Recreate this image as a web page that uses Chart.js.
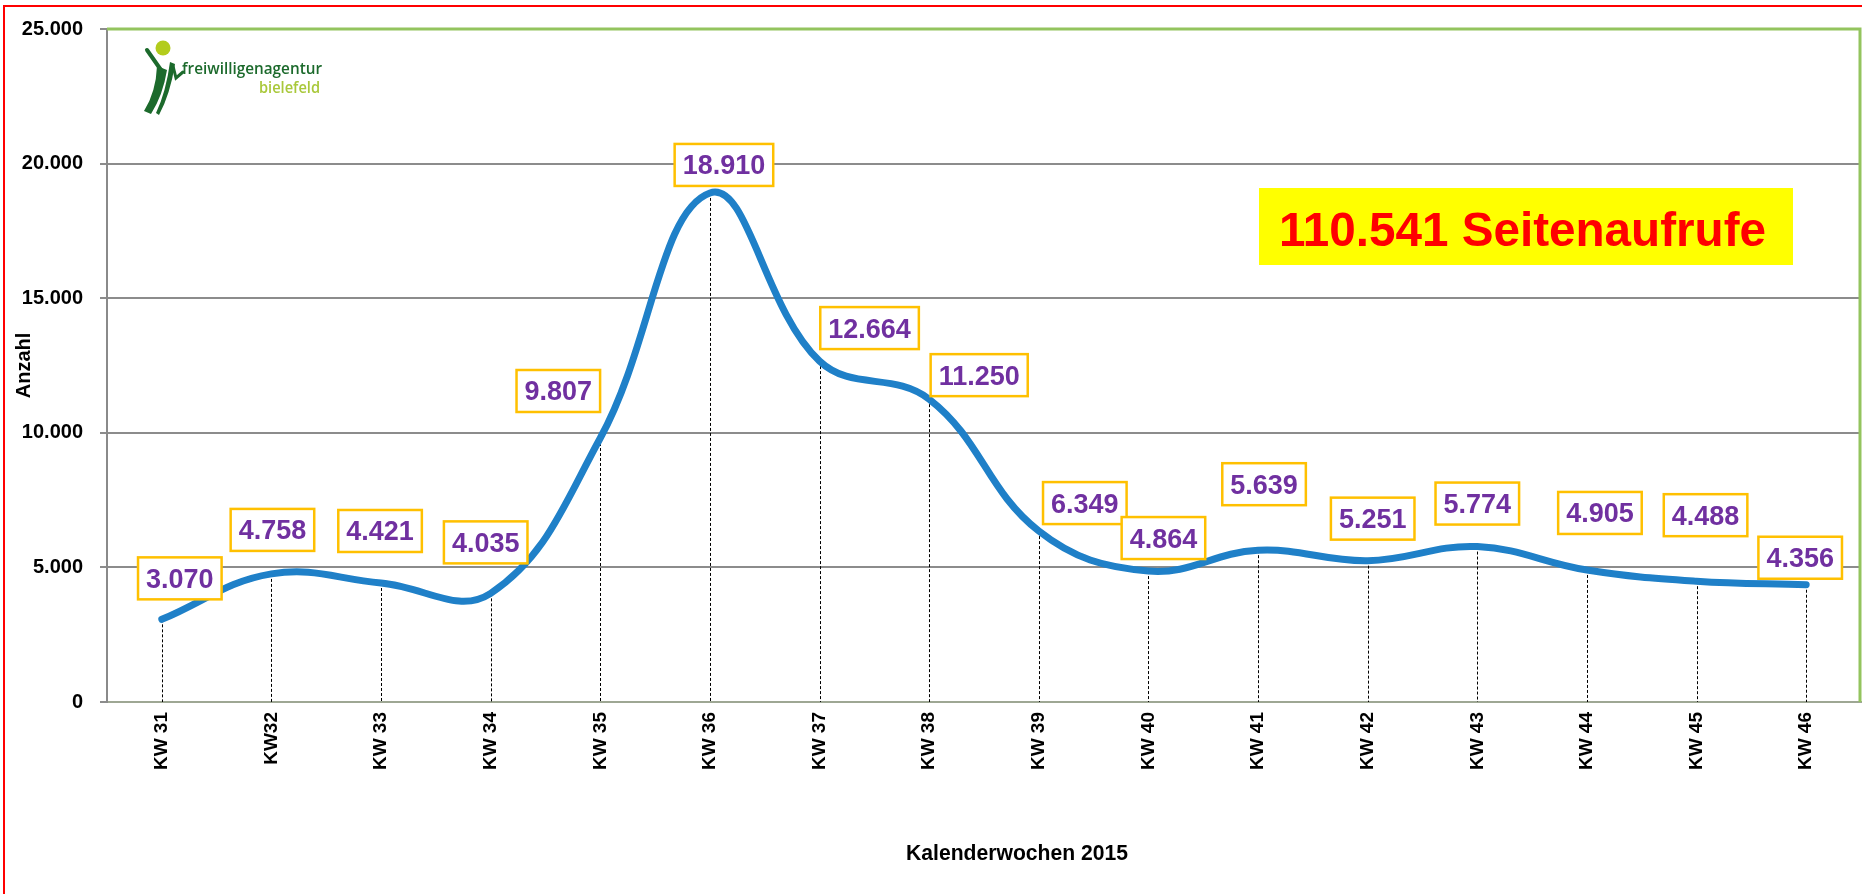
<!DOCTYPE html>
<html>
<head>
<meta charset="utf-8">
<script src="https://cdn.jsdelivr.net/npm/chart.js@4.4.1/dist/chart.umd.min.js"></script>
<style>
    html, body { margin: 0; padding: 0; background: #fff; }
    #wrap { position: relative; width: 1862px; height: 894px; }
</style>
</head>
<body>
<div id="wrap"><canvas id="kwChart"></canvas></div>
<script>
var weeks = ["KW 31", "KW32", "KW 33", "KW 34", "KW 35", "KW 36", "KW 37", "KW 38",
             "KW 39", "KW 40", "KW 41", "KW 42", "KW 43", "KW 44", "KW 45", "KW 46"];
var pageViews = [3070, 4758, 4421, 4035, 9807, 18910, 12664, 11250,
                 6349, 4864, 5639, 5251, 5774, 4905, 4488, 4356];
var yTicks = [0, 5000, 10000, 15000, 20000, 25000];
var totalText = "110.541 Seitenaufrufe";
var xTitle = "Kalenderwochen 2015";
var yTitle = "Anzahl";
var logoName = "freiwilligenagentur";
var logoCity = "bielefeld";

// where each value box sits relative to its point (as placed in the original)
var labelShift = [[18, -41], [1, -44], [-1, -52], [-5, -51], [-42, -47], [14, -28], [50, -33], [50, -24],
                  [46, -28], [15, -33], [6, -66], [5, -42], [0, -43], [13, -57], [9, -66], [-6, -27]];

var SANS = "'Liberation Sans', Arial, sans-serif";

function fmt(v) {
    return String(v).replace(/\B(?=(\d{3})+(?!\d))/g, ".");
}

// text squeezed / stretched to a given width
function fitText(ctx, text, x, y, width) {
    var w = ctx.measureText(text).width;
    ctx.save();
    ctx.translate(x, y);
    ctx.scale(width / w, 1);
    ctx.fillText(text, 0, 0);
    ctx.restore();
}

var dropLines = {
    id: "dropLines",
    beforeDatasetsDraw: function (chart) {
        var ctx = chart.ctx;
        var area = chart.chartArea;
        var y0 = chart.scales.y.getPixelForValue(0);
        ctx.save();
        // green frame at the top and right of the plot
        ctx.strokeStyle = "#93c45e";
        ctx.lineWidth = 3;
        ctx.beginPath();
        ctx.moveTo(area.left, area.top);
        ctx.lineTo(area.right - 1, area.top);
        ctx.lineTo(area.right - 1, area.bottom);
        ctx.stroke();

        ctx.setLineDash([3, 2]);
        ctx.strokeStyle = "#000";
        ctx.lineWidth = 1;
        chart.getDatasetMeta(0).data.forEach(function (p) {
            var x = Math.round(p.x) + 0.5;
            ctx.beginPath();
            ctx.moveTo(x, p.y);
            ctx.lineTo(x, y0);
            ctx.stroke();
        });
        ctx.restore();
    }
};

var valueBoxes = {
    id: "valueBoxes",
    afterDatasetsDraw: function (chart) {
        var ctx = chart.ctx;
        ctx.save();
        ctx.font = "bold 27px " + SANS;
        ctx.textAlign = "center";
        ctx.textBaseline = "middle";
        chart.getDatasetMeta(0).data.forEach(function (p, i) {
            var txt = fmt(pageViews[i]);
            var w = ctx.measureText(txt).width + 16;
            var h = 42;
            var cx = p.x + labelShift[i][0];
            var cy = p.y + labelShift[i][1];
            ctx.fillStyle = "#fff";
            ctx.fillRect(cx - w / 2, cy - h / 2, w, h);
            ctx.strokeStyle = "#ffc000";
            ctx.lineWidth = 2.5;
            ctx.strokeRect(cx - w / 2, cy - h / 2, w, h);
            ctx.fillStyle = "#7030a0";
            ctx.fillText(txt, cx, cy + 2);
        });
        ctx.restore();
    }
};

var extras = {
    id: "extras",
    afterDraw: function (chart) {
        var ctx = chart.ctx;
        ctx.save();
        ctx.textAlign = "left";
        ctx.textBaseline = "alphabetic";

        // yellow total box
        ctx.fillStyle = "#ffff00";
        ctx.fillRect(1259, 188, 534, 77);
        ctx.fillStyle = "#ff0000";
        ctx.font = "bold 48px " + SANS;
        fitText(ctx, totalText, 1279, 246, 487);

        // x axis title (sits a bit right of centre in the original)
        ctx.fillStyle = "#000";
        ctx.font = "bold 22px " + SANS;
        fitText(ctx, xTitle, 906, 860, 222);

        // logo
        ctx.fillStyle = "#b3cc1c";
        ctx.beginPath();
        ctx.arc(163, 48, 7.5, 0, Math.PI * 2);
        ctx.fill();
        ctx.fillStyle = "#1c6a2c";
        ctx.strokeStyle = "#1c6a2c";
        ctx.lineCap = "round";
        ctx.lineWidth = 4;
        ctx.beginPath();
        ctx.moveTo(147, 50);
        ctx.lineTo(161, 70);
        ctx.stroke();
        ctx.beginPath();
        ctx.moveTo(157, 66);
        ctx.lineTo(167, 70);
        ctx.quadraticCurveTo(163, 95, 151, 114);
        ctx.lineTo(144, 111);
        ctx.quadraticCurveTo(156, 92, 157, 66);
        ctx.fill();
        ctx.beginPath();
        ctx.moveTo(170, 62);
        ctx.lineTo(175, 64);
        ctx.quadraticCurveTo(170, 95, 159, 115);
        ctx.lineTo(156, 113);
        ctx.quadraticCurveTo(166, 92, 170, 62);
        ctx.fill();
        ctx.lineWidth = 3;
        ctx.beginPath();
        ctx.moveTo(173, 66);
        ctx.lineTo(176, 78);
        ctx.lineTo(183, 72);
        ctx.stroke();

        ctx.font = "600 16px 'Open Sans', 'Noto Sans', sans-serif";
        fitText(ctx, logoName, 182, 74, 140);
        ctx.fillStyle = "#a9c83a";
        fitText(ctx, logoCity, 259, 93, 61);

        // red outer border (top and left only, like the cropped original)
        ctx.strokeStyle = "#ff0000";
        ctx.lineWidth = 2;
        ctx.beginPath();
        ctx.moveTo(1862, 6);
        ctx.lineTo(4, 6);
        ctx.lineTo(4, 894);
        ctx.stroke();
        ctx.restore();
    }
};

document.addEventListener("DOMContentLoaded", function () {
    var ctx = document.getElementById("kwChart").getContext("2d");

    new Chart(ctx, {
        type: "line",
        data: {
            labels: weeks,
            datasets: [{
                data: pageViews,
                borderColor: "#1f80c8",
                borderWidth: 7,
                borderCapStyle: "round",
                borderJoinStyle: "round",
                tension: 0.4,
                pointRadius: 0,
                pointHoverRadius: 0,
                fill: false,
                clip: false
            }]
        },
        options: {
            responsive: true,
            maintainAspectRatio: false,
            devicePixelRatio: 1,
            animation: false,
            events: [],
            layout: { padding: { top: 23, right: 1, left: 0, bottom: 0 } },
            plugins: {
                legend: { display: false },
                tooltip: { enabled: false }
            },
            scales: {
                x: {
                    offset: true,
                    grid: { display: false, drawTicks: false },
                    border: { display: true, color: "#9ea794", width: 2 },
                    ticks: {
                        minRotation: 90,
                        maxRotation: 90,
                        padding: 10,
                        color: "#000",
                        font: { family: SANS, size: 19, weight: "bold" }
                    },
                    afterFit: function (scale) { scale.height = 192; }
                },
                y: {
                    min: 0,
                    max: 25000,
                    afterBuildTicks: function (scale) {
                        scale.ticks = yTicks.map(function (v) { return { value: v }; });
                    },
                    grid: {
                        color: "#8c8c8c",
                        lineWidth: 2,
                        drawTicks: true,
                        tickLength: 7,
                        tickColor: "#8c8c8c"
                    },
                    border: { display: true, color: "#8a8a8a", width: 2 },
                    ticks: {
                        padding: 17,
                        color: "#000",
                        font: { family: SANS, size: 20, weight: "bold" },
                        callback: function (v) { return fmt(v); }
                    },
                    title: {
                        display: true,
                        text: yTitle,
                        color: "#000",
                        font: { family: SANS, size: 20, weight: "bold" },
                        padding: { top: 12, bottom: 0 }
                    },
                    afterFit: function (scale) { scale.width = 107; }
                }
            }
        },
        plugins: [dropLines, valueBoxes, extras]
    });
});
</script>
</body>
</html>
